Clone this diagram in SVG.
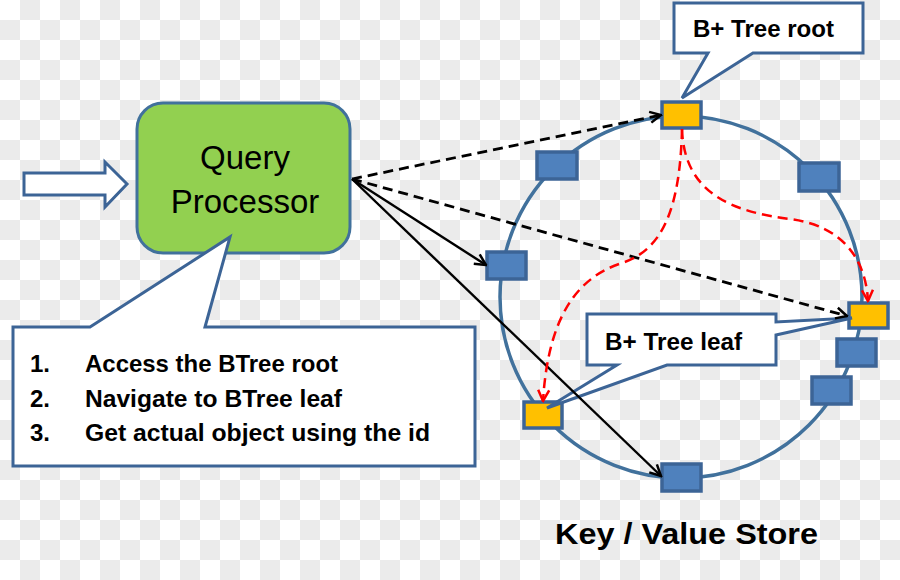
<svg xmlns="http://www.w3.org/2000/svg" width="900" height="580" viewBox="0 0 900 580">
<defs>
<pattern id="checker" width="40" height="40" patternUnits="userSpaceOnUse">
<rect width="40" height="40" fill="#ffffff"/>
<rect x="20" y="0" width="20" height="20" fill="#ebebeb"/>
<rect x="0" y="20" width="20" height="20" fill="#ebebeb"/>
</pattern>
<marker id="arrowBlack" viewBox="0 0 14 14" markerWidth="14" markerHeight="14" refX="12.5" refY="7" orient="auto" markerUnits="userSpaceOnUse">
<path d="M1.5,1.5 L12.5,7 L1.5,12.5" fill="none" stroke="#000" stroke-width="2.5" stroke-linejoin="miter"/>
</marker>
<marker id="arrowRed" viewBox="0 0 14 14" markerWidth="14" markerHeight="14" refX="12.5" refY="7" orient="auto" markerUnits="userSpaceOnUse">
<path d="M1.5,1.5 L12.5,7 L1.5,12.5" fill="none" stroke="#ff0000" stroke-width="2.5"/>
</marker>
</defs>
<style>
.shape { stroke: #3c6496; stroke-width: 3; }
.callout { fill: #ffffff; stroke: #3c6496; stroke-width: 3; stroke-linejoin: miter; }
.blue { fill: #4f81bd; stroke: #3c6496; stroke-width: 3.5; }
.yellow { fill: #ffc000; stroke: #3c6496; stroke-width: 3.5; }
.txt { font-family: "Liberation Sans", Arial, sans-serif; fill: #000; }
.bold { font-weight: bold; }
.dash { fill: none; stroke: #000; stroke-width: 2.8; stroke-dasharray: 10 6; marker-end: url(#arrowBlack); }
.solid { fill: none; stroke: #000; stroke-width: 2.4; marker-end: url(#arrowBlack); }
.red { fill: none; stroke: #ff0000; stroke-width: 2.5; stroke-dasharray: 10 6; marker-end: url(#arrowRed); }
</style>
<rect width="900" height="580" fill="url(#checker)"/>

<g id="kv-ring">
<circle cx="681" cy="297" r="181" fill="none" stroke="#41719c" stroke-width="3.5"/>
</g>

<g id="input-arrow">
<polygon class="shape" fill="#ffffff" points="24,173 105,173 105,162 127,184 105,207 105,195 24,195"/>
</g>

<g id="query-processor">
<rect x="137" y="103" width="213" height="150" rx="26" ry="26" fill="#92d050" stroke="#41719c" stroke-width="3"/>
<text class="txt" x="245" y="169" font-size="33" text-anchor="middle">Query</text>
<text class="txt" x="245" y="213" font-size="33" text-anchor="middle">Processor</text>
</g>

<g id="steps-callout">
<path class="callout" d="M13,327 H90 L230,237 L205,327 H475 V466 H13 Z"/>
<text class="txt bold" font-size="24" x="30" y="372">1.</text>
<text class="txt bold" font-size="24" x="85" y="372" textLength="253" lengthAdjust="spacingAndGlyphs">Access the BTree root</text>
<text class="txt bold" font-size="24" x="30" y="407">2.</text>
<text class="txt bold" font-size="24" x="85" y="407" textLength="257" lengthAdjust="spacingAndGlyphs">Navigate to BTree leaf</text>
<text class="txt bold" font-size="24" x="30" y="441">3.</text>
<text class="txt bold" font-size="24" x="85" y="441" textLength="345" lengthAdjust="spacingAndGlyphs">Get actual object using the id</text>
</g>

<g id="box-root"><rect class="yellow" x="662" y="102" width="39" height="26"/></g>
<g id="box-top-left"><rect class="blue" x="537" y="152" width="40" height="27"/></g>
<g id="box-top-right"><rect class="blue" x="799" y="163" width="40" height="28"/></g>
<g id="box-left"><rect class="blue" x="487" y="252" width="39" height="27"/></g>
<g id="box-right-leaf"><rect class="yellow" x="849" y="303" width="39" height="25"/></g>
<g id="box-right-1"><rect class="blue" x="837" y="339" width="39" height="27"/></g>
<g id="box-right-2"><rect class="blue" x="812" y="377" width="39" height="27"/></g>
<g id="box-left-leaf"><rect class="yellow" x="524" y="402" width="38" height="26"/></g>
<g id="box-bottom"><rect class="blue" x="662" y="464" width="39" height="27"/></g>

<g id="root-callout">
<path class="callout" d="M674,3 H863 V53 H753 L682,98 L708,53 H674 Z"/>
<text class="txt bold" font-size="23" x="693" y="37" textLength="141" lengthAdjust="spacingAndGlyphs">B+ Tree root</text>
</g>

<g id="leaf-callout">
<path class="callout" d="M587,314 H776 V322 L852,318 L776,335 V365 H667 L547,408 L617,365 H587 Z"/>
<text class="txt bold" font-size="23" x="605" y="350" textLength="137" lengthAdjust="spacingAndGlyphs">B+ Tree leaf</text>
</g>

<g id="connectors">
<line class="dash" x1="352" y1="179" x2="661" y2="115"/>
<line class="dash" x1="352" y1="179" x2="847" y2="316"/>
<line class="solid" x1="352" y1="179" x2="486" y2="265"/>
<line class="solid" x1="352" y1="179" x2="661" y2="476"/>
<path class="red" d="M682,129 C684,195 735,212 790,219 C845,226 866,262 868,301"/>
<path class="red" d="M682,129 C680,210 662,250 622,263 C575,278 548,320 543,401"/>
</g>

<g id="title">
<text class="txt bold" font-size="30" x="555" y="544" textLength="263" lengthAdjust="spacingAndGlyphs">Key / Value Store</text>
</g>
</svg>
